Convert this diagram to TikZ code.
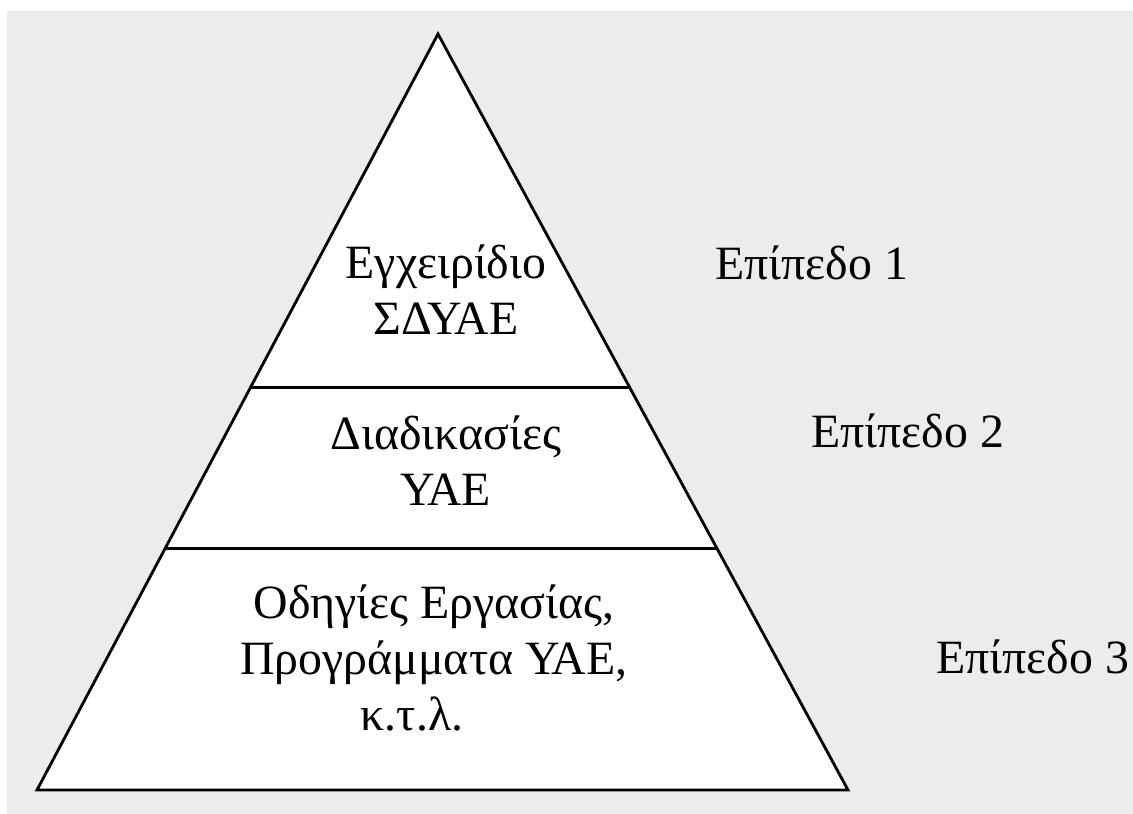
\documentclass[tikz,border=0pt]{standalone}
\usepackage{fontspec}
\setmainfont{Liberation Serif}
\usetikzlibrary{calc}
\definecolor{pagegray}{HTML}{ECECEC}
\begin{document}
\begin{tikzpicture}[x=0.025cm,y=-0.025cm,
    txt/.style={font=\fontsize{34}{40}\selectfont,align=center,inner sep=0pt},
    edge/.style={line width=2pt}]
  \useasboundingbox (0,0) rectangle (1133,814);
  \fill[pagegray] (7,11) rectangle (1133,814);
  % pyramid
  \coordinate (top) at (438,34);
  \coordinate (bl) at (37,790);
  \coordinate (br) at (848,790);
  \draw[edge,fill=white] (top) -- (bl) -- (br) -- cycle;
  \coordinate (l1) at ($(top)!0.468!(bl)$);
  \coordinate (r1) at ($(top)!0.468!(br)$);
  \coordinate (l2) at ($(top)!0.681!(bl)$);
  \coordinate (r2) at ($(top)!0.681!(br)$);
  \begin{scope}[edge]
    \draw (l1) to (r1);
    \draw (l2) to (r2);
  \end{scope}
  % texts
  \draw
    (446,290) node[txt] (manual){Εγχειρίδιο\\ΣΔΥΑΕ}
    (446,461) node[txt] (proc){Διαδικασίες\\ΥΑΕ}
    (434,658) node[txt] (instr){Οδηγίες Εργασίας,\\Προγράμματα ΥΑΕ,\\κ.τ.λ.\hspace*{1.1cm}}
    (715,263) node[txt,anchor=west] (lev1){Επίπεδο 1}
    (811,431) node[txt,anchor=west] (lev2){Επίπεδο 2}
    (936,657) node[txt,anchor=west] (lev3){Επίπεδο 3};
\end{tikzpicture}
\end{document}
